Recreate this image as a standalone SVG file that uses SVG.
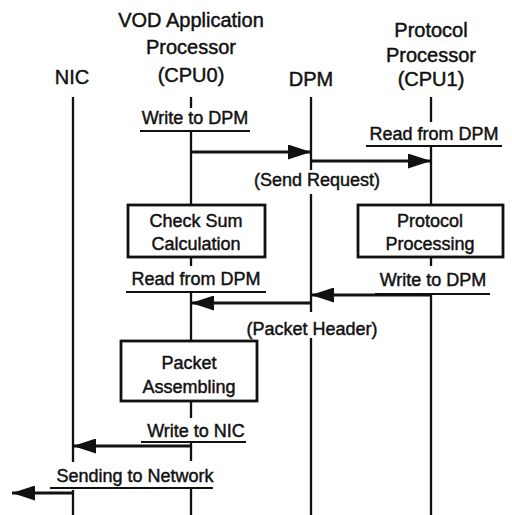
<svg xmlns="http://www.w3.org/2000/svg" width="512" height="515" viewBox="0 0 512 515">
  <style>
    .hdr { font-family: "Liberation Sans", Arial, sans-serif; font-size: 20px; text-anchor: middle; fill: #111; stroke: #111; stroke-width: 0.45; }
    .lbl { font-family: "Liberation Sans", Arial, sans-serif; font-size: 18px; text-anchor: middle; fill: #111; stroke: #111; stroke-width: 0.45; }
    .life { stroke: #111; stroke-width: 2.3; fill: none; }
    .msg { stroke: #111; stroke-width: 2.8; fill: none; }
    .uline { stroke: #111; stroke-width: 2; fill: none; }
    .box { stroke: #111; stroke-width: 2.8; fill: #fff; }
  </style>
  <defs>
    <marker id="head" markerUnits="userSpaceOnUse" markerWidth="25" markerHeight="15" refX="23" refY="7.5" orient="auto">
      <path d="M0,0 L23,7.5 L0,15 Z" fill="#111"/>
    </marker>
  </defs>
  <rect width="512" height="515" fill="#fff"/>

  <!-- column headings -->
  <g id="nic">
    <text class="hdr" x="72" y="84">NIC</text>
  </g>
  <g id="cpu0">
    <text class="hdr" x="191" y="27">VOD Application</text>
    <text class="hdr" x="191" y="54">Processor</text>
    <text class="hdr" x="191" y="82">(CPU0)</text>
  </g>
  <g id="dpm">
    <text class="hdr" x="311" y="86">DPM</text>
  </g>
  <g id="cpu1">
    <text class="hdr" x="431" y="37">Protocol</text>
    <text class="hdr" x="431" y="62">Processor</text>
    <text class="hdr" x="431" y="86">(CPU1)</text>
  </g>

  <!-- lifelines, broken where labels sit -->
  <g id="lifelines">
    <path class="life" d="M73,97 V462 M73,490 V515"/>
    <path class="life" d="M191,97 V108 M191,131 V205 M191,257 V266 M191,292 V341 M191,401 V418 M191,442 V461 M191,488 V515"/>
    <path class="life" d="M311,97 V170 M311,194 V312 M311,338 V515"/>
    <path class="life" d="M431,97 V122 M431,146 V205 M431,257 V266 M431,294 V515"/>
  </g>

  <!-- process boxes -->
  <g id="checksum">
    <rect class="box" x="128" y="205" width="137" height="52"/>
    <text class="lbl" x="196" y="227">Check Sum</text>
    <text class="lbl" x="196" y="250">Calculation</text>
  </g>
  <g id="protocol-processing">
    <rect class="box" x="358" y="205" width="145" height="52"/>
    <text class="lbl" x="430" y="227">Protocol</text>
    <text class="lbl" x="430" y="250">Processing</text>
  </g>
  <g id="packet-assembling">
    <rect class="box" x="121" y="341" width="136" height="60"/>
    <text class="lbl" x="189" y="369">Packet</text>
    <text class="lbl" x="189" y="393">Assembling</text>
  </g>

  <!-- step labels with underlines -->
  <g id="labels">
    <text class="lbl" x="195" y="124">Write to DPM</text>
    <path class="uline" d="M140,131 H250"/>
    <text class="lbl" x="434" y="140">Read from DPM</text>
    <path class="uline" d="M366,146 H502"/>
    <text class="lbl" x="317" y="186">(Send Request)</text>
    <text class="lbl" x="196" y="285">Read from DPM</text>
    <path class="uline" d="M126,292 H266"/>
    <text class="lbl" x="433" y="286">Write to DPM</text>
    <path class="uline" d="M375,294 H490"/>
    <text class="lbl" x="312" y="335">(Packet Header)</text>
    <text class="lbl" x="196" y="437">Write to NIC</text>
    <path class="uline" d="M141,442 H246"/>
    <text class="lbl" x="135" y="482">Sending to Network</text>
    <path class="uline" d="M50,488 H213"/>
  </g>

  <!-- messages -->
  <g id="connectors">
    <path class="msg" d="M191,152 H311" marker-end="url(#head)"/>
    <path class="msg" d="M311,161 H431" marker-end="url(#head)"/>
    <path class="msg" d="M431,295 H311" marker-end="url(#head)"/>
    <path class="msg" d="M311,303 H191" marker-end="url(#head)"/>
    <path class="msg" d="M191,446 H73" marker-end="url(#head)"/>
    <path class="msg" d="M73,493 H12" marker-end="url(#head)"/>
  </g>
</svg>
